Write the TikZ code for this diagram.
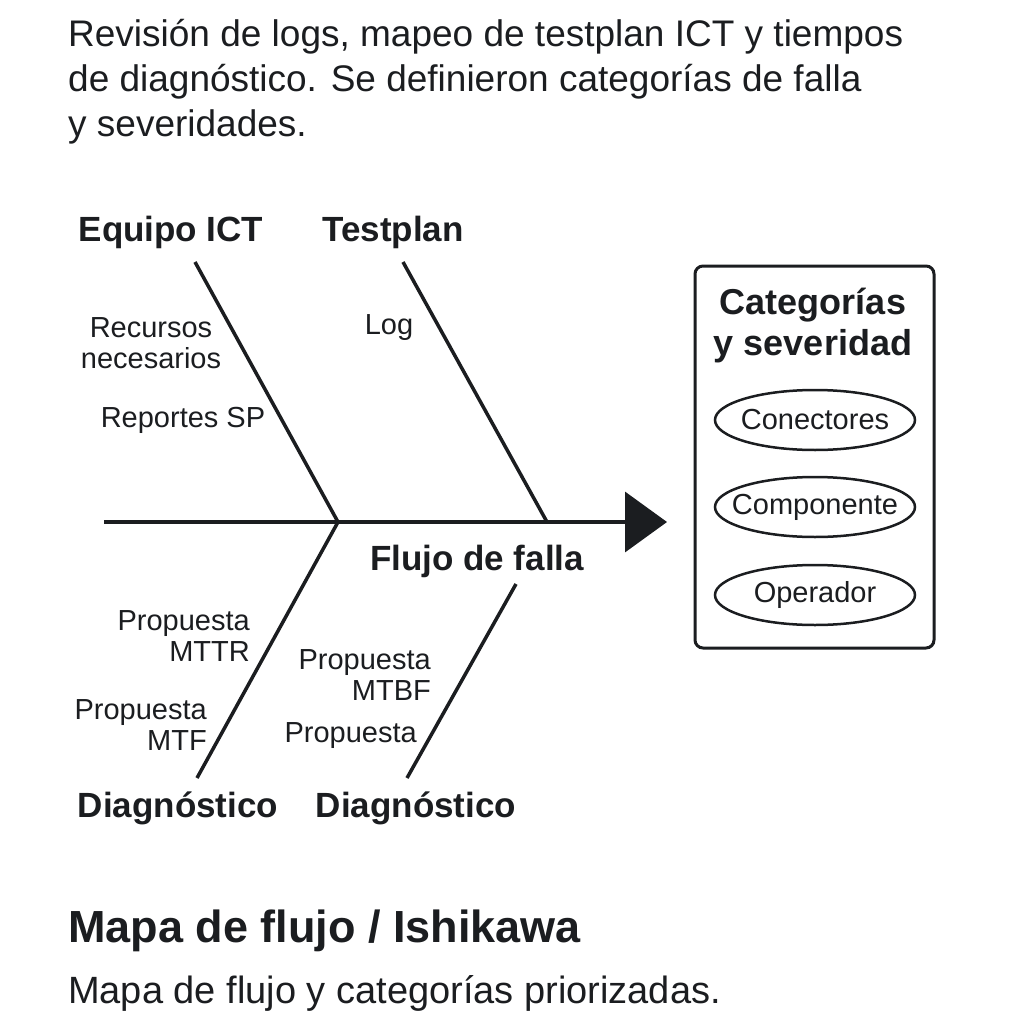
\documentclass[tikz,border=0pt]{standalone}
\usepackage{fontspec}
\setmainfont{Liberation Sans}
\usetikzlibrary{arrows.meta,positioning,shapes.geometric}
\definecolor{fbink}{HTML}{1B1D20}

\begin{document}
\begin{tikzpicture}[x=1pt,y=-1pt,
    bone/.style={draw=fbink,line width=3.5pt},
    causehead/.style={font=\fontsize{35}{40}\selectfont\bfseries,text=fbink},
    causeitem/.style={font=\fontsize{29}{31}\selectfont,text=fbink,inner sep=0pt},
    catpill/.style={inner sep=0pt,font=\fontsize{29}{32}\selectfont,text=fbink}]
  \useasboundingbox[fill=white] (0,0) rectangle (1024,1024);
  % texto de arriba
  \node[anchor=base west,inner sep=0pt,font=\fontsize{37}{42}\selectfont,text=fbink] (desc1) at (68,47) {Revisión de logs, mapeo de testplan ICT y tiempos};
  \node[anchor=base west,inner sep=0pt,font=\fontsize{37}{42}\selectfont,text=fbink] (desc2) at (68,92) {de diagnóstico. Se definieron categorías de falla};
  \node[anchor=base west,inner sep=0pt,font=\fontsize{37}{42}\selectfont,text=fbink] (desc3) at (68,137) {y severidades.};
  % espina
  \coordinate (tail) at (104,522);
  \coordinate (head) at (667,522);
  \draw[bone,-{Triangle[length=42pt,width=60pt]}] (tail) -- (head);
  % espinas superiores
  \coordinate (eqtop) at (195,262);
  \coordinate (eqfoot) at (338,522);
  \coordinate (tptop) at (403,262);
  \coordinate (tpfoot) at (547,522);
  \draw[bone] (eqtop) -- (eqfoot);
  \draw[bone] (tptop) -- (tpfoot);
  % espinas inferiores
  \coordinate (dgabot) at (197,778);
  \coordinate (dgbtop) at (516,584);
  \coordinate (dgbbot) at (407,778);
  \draw[bone] (eqfoot) -- (dgabot);
  \draw[bone] (dgbtop) -- (dgbbot);
  % cabezas
  \node[causehead] (equipo) at (171,232) {Equipo ICT};
  \node[causehead] (testplan) at (393,232) {Testplan};
  \node[causehead] (flujo) at (477,561) {Flujo de falla};
  \node[causehead] (diaga) at (178,808) {Diagnóstico};
  \node[causehead] (diagb) at (416,808) {Diagnóstico};
  % causas
  \node[causeitem,align=center] (recursos) at (151,343) {Recursos\\necesarios};
  \node[causeitem] (reportes) at (183,420) {Reportes SP};
  \node[causeitem] (log) at (389,328) {Log};
  \node[causeitem,align=right,anchor=east] (mttr) at (250,636) {Propuesta\\MTTR};
  \node[causeitem,align=right,anchor=east] (mtf) at (207,725) {Propuesta\\MTF};
  \node[causeitem,align=right,anchor=east] (mtbf) at (431,675) {Propuesta\\MTBF};
  \node[causeitem,anchor=east] (prop) at (417,736) {Propuesta};
  % caja de categorias
  \draw[draw=fbink,line width=3pt,rounded corners=8pt] (695,266) rectangle (934,648);
  \node[font=\fontsize{36}{41}\selectfont\bfseries,text=fbink,align=center] (cattitle) at (813,326) {Categorías\\y severidad};
  \node[catpill] (conect) at (815,420) {Conectores};
  \node[catpill] (compo) at (815,507) {Componente};
  \node[catpill] (opera) at (815,595) {Operador};
  \foreach \pill in {conect,compo,opera}
    \draw[draw=fbink,line width=2.5pt] (\pill) ellipse [x radius=100pt,y radius=30pt];
  % texto de abajo
  \node[anchor=base west,inner sep=0pt,font=\fontsize{45}{50}\selectfont\bfseries,text=fbink] (title) at (68,942) {Mapa de flujo / Ishikawa};
  \node[anchor=base west,inner sep=0pt,font=\fontsize{38}{43}\selectfont,text=fbink] (subtitle) at (68,1003) {Mapa de flujo y categorías priorizadas.};
\end{tikzpicture}
\end{document}
